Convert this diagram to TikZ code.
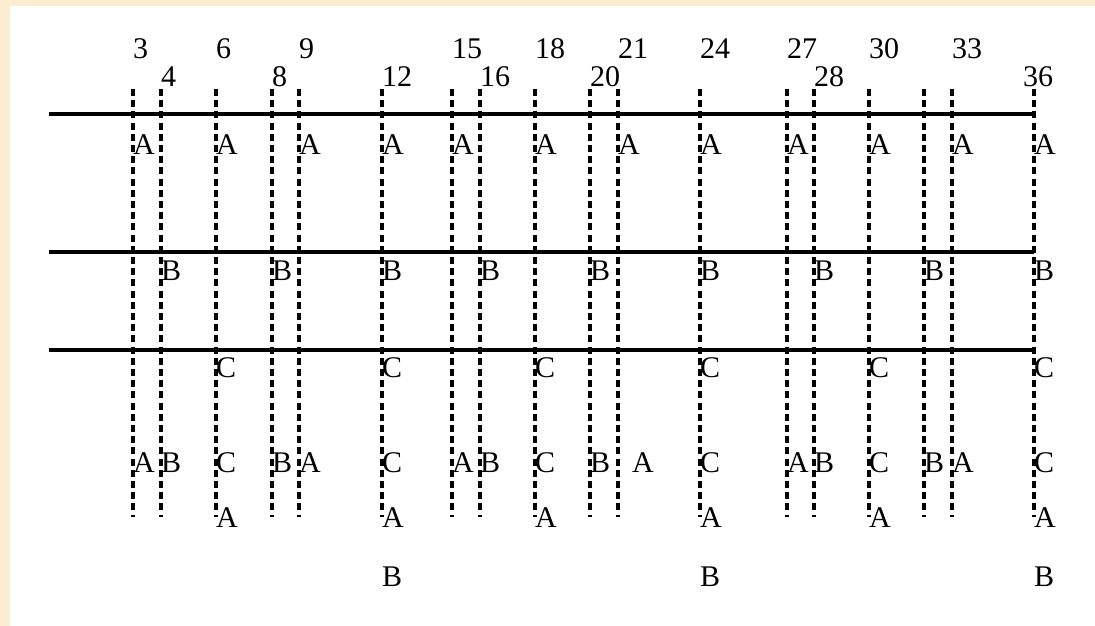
\documentclass[tikz,border=0pt]{standalone}
\usepackage{fontspec}
\setmainfont{Liberation Serif}
\definecolor{cream}{RGB}{252,237,208}
\begin{document}
\begin{tikzpicture}[x=1pt,y=-1pt,
  hline/.style={line width=4pt},
  vdash/.style={line width=3.4pt, dash pattern=on 7pt off 4.2pt},
  lbl/.style={anchor=base west, inner sep=0pt, font=\fontsize{30}{36}\selectfont},
  num/.style={anchor=base west, inner sep=0pt, font=\fontsize{30}{36}\selectfont}]
\fill[cream] (0,0) rectangle (1095,626);
\fill[white] (10,6) rectangle (1095,626);
\useasboundingbox (0,0) rectangle (1095,626);
% tick positions
\foreach \n/\x in {3/133,4/161,6/216,8/272,9/299,12/382,15/452,16/480,18/535,20/590,21/618,24/700,27/787,28/814,30/869,32/924,33/952,36/1034}
  \coordinate (t\n) at (\x,0);
\coordinate (top) at (0,89);
\coordinate (bot) at (0,517);
\coordinate (h1) at (49,114);
\coordinate (h2) at (49,251.5);
\coordinate (h3) at (49,349.5);
% horizontal lines
\foreach \h in {h1,h2,h3}
  \draw[hline] (\h) -- (t36 |- \h);
% vertical dashed lines
\foreach \n in {3,4,6,8,9,12,15,16,18,20,21,24,27,28,30,32,33,36}
  \draw[vdash] (t\n |- top) -- (t\n |- bot);
% numbers
\coordinate (nr1) at (0,59);
\coordinate (nr2) at (0,87);
\foreach \n in {3,6,9,15,18,21,24,27,30,33}
  \node[num] (n\n) at (t\n |- nr1) {\n};
\foreach \n in {4,8,12,16,20,28}
  \node[num] (n\n) at (t\n |- nr2) {\n};
\node[num, anchor=base] (n36) at ([xshift=4pt]t36 |- nr2) {36};
% rows of letters
\coordinate (r1) at (0,154);
\coordinate (r2) at (0,280);
\coordinate (r3) at (0,377);
\coordinate (r4) at (0,472);
\coordinate (r5) at (0,527);
\coordinate (r6) at (0,586);
\foreach \n in {3,6,9,12,15,18,21,24,27,30,33,36}
  \node[lbl] (ra\n) at (t\n |- r1) {A};
\foreach \n in {4,8,12,16,20,24,28,32,36}
  \node[lbl] (rb\n) at (t\n |- r2) {B};
\foreach \n in {6,12,18,24,30,36}
  \node[lbl] (rc\n) at (t\n |- r3) {C};
\foreach \n/\l in {3/A,4/B,6/C,8/B,9/A,12/C,15/A,16/B,18/C,20/B,24/C,27/A,28/B,30/C,32/B,33/A,36/C}
  \node[lbl] (rd\n) at (t\n |- r4) {\l};
\node[lbl] (rdx) at (632,472) {A};
\foreach \n in {6,12,18,24,30,36}
  \node[lbl] (re\n) at (t\n |- r5) {A};
\foreach \n in {12,24,36}
  \node[lbl] (rf\n) at (t\n |- r6) {B};
\end{tikzpicture}
\end{document}
